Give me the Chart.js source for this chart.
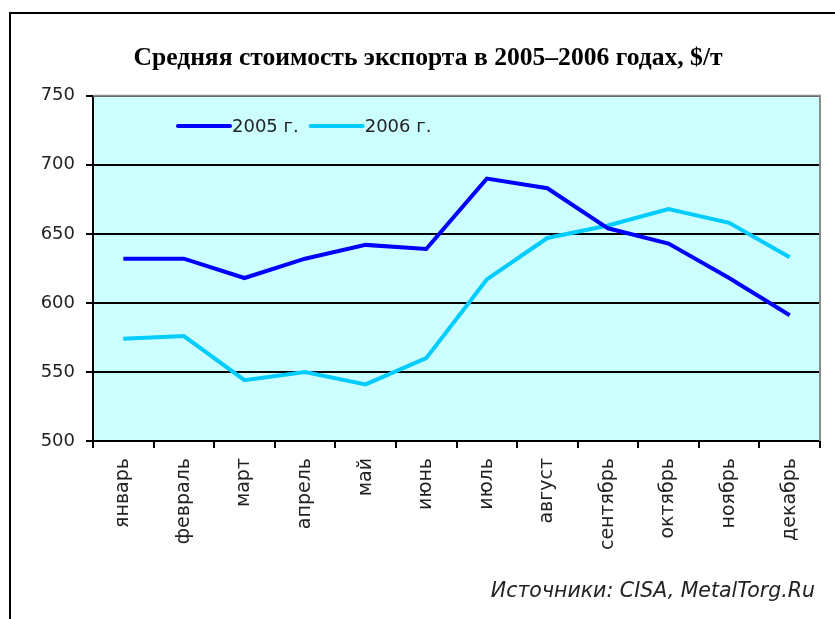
<!DOCTYPE html>
<html>
<head>
<meta charset="utf-8">
<script src="https://cdn.jsdelivr.net/npm/chart.js@4"></script>
<style>
	body { margin: 0; background: #fff; }
	#wrap { width: 835px; height: 619px; }
</style>
</head>
<body>
<div id="wrap"><canvas id="graph_export"></canvas></div>
<script>
// data
var months = ['январь', 'февраль', 'март', 'апрель', 'май', 'июнь', 'июль', 'август', 'сентябрь', 'октябрь', 'ноябрь', 'декабрь']
var price2005 = [632, 632, 618, 632, 642, 639, 690, 683, 654, 643, 618, 591]
var price2006 = [574, 576, 544, 550, 541, 560, 617, 647, 656, 668, 658, 633]
var yTicks = [500, 550, 600, 650, 700, 750]

var titleText = 'Средняя стоимость экспорта в 2005–2006 годах, $/т'
var sourceText = 'Источники: CISA, MetalTorg.Ru'

var sans = '"DejaVu Sans", Verdana, sans-serif'

// background of the plot, outer frame, legend inside plot, source line
var excelLook = {
	id: 'excelLook',
	beforeDraw: function (chart) {
		var ctx = chart.ctx, a = chart.chartArea
		ctx.save()
		ctx.fillStyle = '#ccffff'
		ctx.fillRect(a.left, a.top, a.right - a.left, a.bottom - a.top)
		// outer frame (left + top only visible)
		ctx.strokeStyle = '#000'
		ctx.lineWidth = 2
		ctx.beginPath()
		ctx.moveTo(10, chart.height)
		ctx.lineTo(10, 13)
		ctx.lineTo(chart.width, 13)
		ctx.stroke()
		ctx.restore()
	},
	afterDraw: function (chart) {
		var ctx = chart.ctx, a = chart.chartArea
		ctx.save()
		// gray top/right border of plot
		ctx.strokeStyle = '#8c8c8c'
		ctx.lineWidth = 2
		ctx.beginPath()
		ctx.moveTo(a.left, a.top)
		ctx.lineTo(a.right, a.top)
		ctx.lineTo(a.right, a.bottom)
		ctx.stroke()
		// legend
		var x = 178, y = 126
		ctx.font = '18px ' + sans
		ctx.textBaseline = 'middle'
		chart.data.datasets.forEach(function (ds) {
			ctx.strokeStyle = ds.borderColor
			ctx.lineWidth = 4
			ctx.lineCap = 'round'
			ctx.beginPath()
			ctx.moveTo(x, y)
			ctx.lineTo(x + 52, y)
			ctx.stroke()
			ctx.fillStyle = '#222'
			ctx.fillText(ds.label, x + 54, y + 1)
			x += 54 + ctx.measureText(ds.label).width + 12
		})
		// source
		ctx.font = 'italic 20.5px ' + sans
		ctx.textAlign = 'right'
		ctx.textBaseline = 'alphabetic'
		ctx.fillStyle = '#222'
		ctx.fillText(sourceText, 815, 597)
		ctx.restore()
	}
}

var cfg = {
	type: 'line',
	data: {
		labels: months,
		datasets: [{
			label: '2005 г.',
			data: price2005,
			borderColor: '#0000ff',
			borderWidth: 4,
			pointRadius: 0,
			tension: 0
		}, {
			label: '2006 г.',
			data: price2006,
			borderColor: '#00ccff',
			borderWidth: 4,
			pointRadius: 0,
			tension: 0
		}]
	},
	options: {
		responsive: true,
		maintainAspectRatio: false,
		animation: false,
		// left padding + y width = 93, shifts the title centre right like the reference
		layout: { padding: { left: 36, right: 15, top: 0, bottom: 0 } },
		plugins: {
			legend: { display: false },
			tooltip: { enabled: false },
			title: {
				display: true,
				text: titleText,
				color: '#000',
				font: { family: '"Liberation Serif", "Times New Roman"', size: 25.6, weight: 'bold' },
				padding: { top: 43, bottom: 22 }
			}
		},
		scales: {
			x: {
				offset: true,
				grid: { offset: true, drawOnChartArea: false, color: '#000', tickLength: 7, lineWidth: 2 },
				border: { color: '#000', width: 2 },
				ticks: {
					color: '#222',
					minRotation: 90,
					maxRotation: 90,
					padding: 10,
					font: { family: sans, size: 19 }
				},
				afterFit: function (s) { s.height = 178 }
			},
			y: {
				min: 500,
				max: 750,
				afterBuildTicks: function (s) {
					s.ticks = yTicks.map(function (v) { return { value: v } })
				},
				grid: { color: '#000', lineWidth: 2, tickLength: 7 },
				border: { color: '#000', width: 2 },
				ticks: {
					color: '#222',
					padding: 11,
					font: { family: sans, size: 18 }
				},
				afterFit: function (s) { s.width = 57 }
			}
		}
	},
	plugins: [excelLook]
}

window.exportGraph = new Chart(document.getElementById('graph_export'), cfg)
</script>
</body>
</html>
